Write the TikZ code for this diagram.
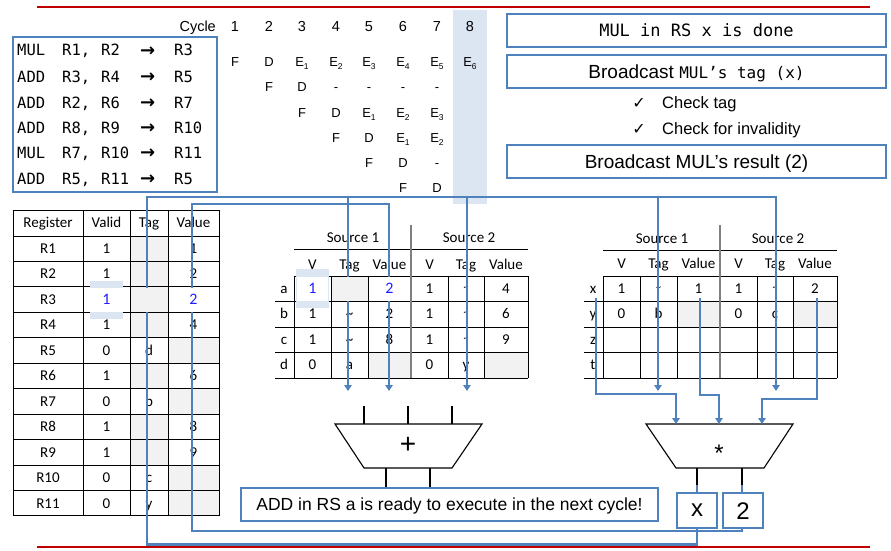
\documentclass[tikz,border=0pt]{standalone}
\usepackage{fontspec}
\setmainfont{Liberation Sans}
\newfontfamily\calib{Carlito}
\newfontfamily\dmono{DejaVu Sans Mono}
\newfontfamily\djv{DejaVu Sans}
\usetikzlibrary{arrows.meta}
\definecolor{wire}{RGB}{79,129,189}
\definecolor{hlblue}{RGB}{220,230,242}
\definecolor{cellgray}{RGB}{242,242,242}
\definecolor{redline}{RGB}{192,0,0}
\definecolor{txtblue}{RGB}{32,32,255}
\definecolor{sepgray}{RGB}{128,128,128}
\newcommand\fs[1]{\fontsize{#1}{#1}\selectfont}
\newcommand\Esb[1]{E\raisebox{-2.5pt}{\fs{8.5}#1}}
\newcommand\hti{\raisebox{3pt}{\fs{10}\textasciitilde}}
\begin{document}
\begin{tikzpicture}[x=1pt,y=-1pt,
  wa/.style={draw=wire,line width=2.8pt,-{Triangle[width=7.5pt,length=6pt]}},
  bbox/.style={draw=wire,line width=2pt,fill=white,inner sep=0pt},
  gl/.style={draw=black,line width=1pt},
  cyc/.style={font=\fs{14.5},text height=10.4pt,text depth=0pt,inner sep=0pt},
  pl/.style={font=\fs{13},text height=9.3pt,text depth=0pt,inner sep=0pt},
  im/.style={font=\dmono\fs{15.5},anchor=base west,inner sep=0pt},
  tb/.style={font=\calib\fs{15},text height=9.6pt,text depth=0pt,inner sep=0pt},
  chk/.style={font=\fs{16.5},text height=11.8pt,text depth=0pt,inner sep=0pt,anchor=west}
]
\useasboundingbox (0,0) rectangle (891,551);
% red rules
\draw[redline,line width=2.8pt] (37,7) -- (870,7);
\draw[redline,line width=2.8pt] (37,547) -- (870,547);
% cycle 8 highlight
\fill[hlblue] (453,10) rectangle (487,204);
% cycle header
\node[cyc,anchor=east] (cyc) at (216,26) {Cycle};
\foreach \c/\x in {1/235,2/269,3/302,4/336,5/369,6/403,7/437,8/470}
  \node[cyc] (cy\c) at (\x,26) {\c};
% pipeline
\foreach \t/\x/\y [count=\k] in {F/235/62,D/269/62,\Esb{1}/302/62,\Esb{2}/336/62,\Esb{3}/369/62,\Esb{4}/403/62,\Esb{5}/437/62,\Esb{6}/470/62,
  F/269/87,D/302/87,-/336/87,-/369/87,-/403/87,-/437/87,
  F/302/113,D/336/113,\Esb{1}/369/113,\Esb{2}/403/113,\Esb{3}/437/113,
  F/336/138,D/369/138,\Esb{1}/403/138,\Esb{2}/437/138,
  F/369/163,D/403/163,-/437/163,
  F/403/188,D/437/188}
  \node[pl] (p\k) at (\x,\y) {\t};
% instruction box
\draw[wire,line width=1.8pt] (13,37) rectangle (217,192);
\foreach \o/\a/\b/\d/\y [count=\k] in {MUL/{R1,}/R2/R3/56,ADD/{R3,}/R4/R5/82,ADD/{R2,}/R6/R7/108,ADD/{R8,}/R9/R10/133,MUL/{R7,}/R10/R11/158,ADD/{R5,}/R11/R5/184}{
  \node[im] (io\k) at (17,\y) {\o};
  \node[im] (ia\k) at (62,\y) {\a};
  \node[im] (ib\k) at (101,\y) {\b};
  \node[im,font=\djv\bfseries\fs{18}] (ir\k) at (140,{\y+0.5}) {→};
  \node[im] (id\k) at (174,\y) {\d};
}
% right boxes
\node[bbox,minimum width=379pt,minimum height=33pt,font=\dmono\fs{17},text height=12.4pt,text depth=0pt] (b1) at (696.5,30.5) {MUL in RS x is done};
\node[bbox,minimum width=379pt,minimum height=33pt,font=\fs{19},text height=13.6pt,text depth=0pt] (b2) at (696.5,71.5) {Broadcast {\dmono\fs{16}MUL’s tag (x)}};
\node[font=\djv\fs{16},inner sep=0pt] (ck1) at (639,103) {✓};
\node[chk] (ct1) at (662,103) {Check tag};
\node[font=\djv\fs{16},inner sep=0pt] (ck2) at (639,129) {✓};
\node[chk] (ct2) at (662,129) {Check for invalidity};
\node[bbox,minimum width=379pt,minimum height=33pt,font=\fs{19},text height=13.6pt,text depth=0pt] (b3) at (696.5,161.5) {Broadcast MUL’s result (2)};
% ---------------- register table
\foreach \i in {1,2,3,4,6,8,9} \fill[cellgray] (130,{236+25.45*(\i-1)}) rectangle (168,{236+25.45*\i});
\foreach \i in {5,7,10,11} \fill[cellgray] (168,{236+25.45*(\i-1)}) rectangle (219,{236+25.45*\i});
\foreach \x in {13,83,130,168,219} \draw[gl] (\x,210) -- (\x,516);
\draw[gl] (13,210) -- (219,210);
\foreach \i in {0,...,11} \draw[gl] (13,{236+25.45*\i}) -- (219,{236+25.45*\i});
\node[tb] (hr1) at (48,223) {Register};
\node[tb] (hr2) at (106.5,223) {Valid};
\node[tb] (hr3) at (149,223) {Tag};
\node[tb] (hr4) at (193.5,223) {Value};
\foreach \r/\v/\t/\w [count=\i] in {R1/1/{}/1,R2/1/{}/2,R3/{}/{}/{},R4/1/{}/4,R5/0/d/{},R6/1/{}/6,R7/0/b/{},R8/1/{}/8,R9/1/{}/9,R10/0/c/{},R11/0/y/{}}{
  \node[tb] (rn\i) at (48,{236+25.45*(\i-0.5)}) {\r};
  \node[tb] (rv\i) at (106.5,{236+25.45*(\i-0.5)}) {\v};
  \node[tb] (rt\i) at (149,{236+25.45*(\i-0.5)}) {\t};
  \node[tb] (rw\i) at (193.5,{236+25.45*(\i-0.5)}) {\w};
}
% ---------------- left RS
\fill[cellgray] (368,352) rectangle (411,378);
\fill[cellgray] (484,352) rectangle (528,378);
\node[tb] (ls1) at (353,238) {Source 1};
\node[tb] (ls2) at (469,238) {Source 2};
\draw[gl] (294,249) -- (528,249);
\draw[gl] (294,276) -- (528,276);
\foreach \y in {301,327,352,378} \draw[gl] (275,\y) -- (528,\y);
\foreach \x in {294,331,368,448,484,528} \draw[gl] (\x,276) -- (\x,378);
\draw[sepgray,line width=1.5pt] (411,225) -- (411,378);
\foreach \h/\x [count=\k] in {V/312.5,Tag/349.5,Value/389.5,V/429.5,Tag/466,Value/506}
  \node[tb] (lh\k) at (\x,265) {\h};
\foreach \l/\a/\b/\c/\d/\e/\f/\y in {a/{}/{}/{}/1/\hti/4/288.5,b/1/\textasciitilde/2/1/\hti/6/314,c/1/\textasciitilde/8/1/\hti/9/339.5,d/0/a/{}/0/y/{}/365}{
  \node[tb] (ll\l) at (284,\y) {\l};
  \node[tb] (l1\l) at (312.5,\y) {\a};
  \node[tb] (l2\l) at (349.5,\y) {\b};
  \node[tb] (l3\l) at (389.5,\y) {\c};
  \node[tb] (l4\l) at (429.5,\y) {\d};
  \node[tb] (l5\l) at (466,\y) {\e};
  \node[tb] (l6\l) at (506,\y) {\f};
}
% ---------------- right RS
\fill[cellgray] (677,301) rectangle (720,327);
\fill[cellgray] (793,301) rectangle (837,327);
\node[tb] (rs1) at (662,239) {Source 1};
\node[tb] (rs2) at (778,239) {Source 2};
\draw[gl] (603,250) -- (837,250);
\draw[gl] (603,276) -- (837,276);
\foreach \y in {301,327,352,378} \draw[gl] (584,\y) -- (837,\y);
\foreach \x in {603,640,677,757,793,837} \draw[gl] (\x,276) -- (\x,378);
\draw[sepgray,line width=1.5pt] (720,225) -- (720,378);
\foreach \h/\x [count=\k] in {V/621.5,Tag/658.5,Value/698.5,V/738.5,Tag/775,Value/815}
  \node[tb] (rh\k) at (\x,264) {\h};
\foreach \l/\a/\b/\c/\d/\e/\f/\y in {x/1/\hti/1/1/\hti/2/288.5,y/0/b/{}/0/c/{}/314,z/{}/{}/{}/{}/{}/{}/339.5,t/{}/{}/{}/{}/{}/{}/365}{
  \node[tb] (rl\l) at (593,\y) {\l};
  \node[tb] (r1\l) at (621.5,\y) {\a};
  \node[tb] (r2\l) at (658.5,\y) {\b};
  \node[tb] (r3\l) at (698.5,\y) {\c};
  \node[tb] (r4\l) at (738.5,\y) {\d};
  \node[tb] (r5\l) at (775,\y) {\e};
  \node[tb] (r6\l) at (815,\y) {\f};
}
% ---------------- functional units
\draw[black,line width=1.1pt] (335,424) -- (482,424) -- (452,468) -- (364,468) -- cycle;
\node[font=\fs{28},text height=14pt,text depth=0pt,inner sep=0pt] (add) at (408,446) {+};
\foreach \x in {364,408,452} \draw[black,line width=1.1pt] (\x,406) -- (\x,424);
\foreach \x in {386,430} \draw[black,line width=1.1pt] (\x,468) -- (\x,488);
\draw[black,line width=1.1pt] (646,424) -- (793,424) -- (764,468) -- (676,468) -- cycle;
\node[font=\fs{24},anchor=base,inner sep=0pt] (mul) at (719,461) {*};
\foreach \x in {697,742} \draw[black,line width=1.1pt] (\x,468) -- (\x,486);
% ---------------- wires
\coordinate (tagsrc) at (697,485);
\coordinate (valsrc) at (742,485);
\draw[wa] (tagsrc) -- (697,544.5) -- (147,544.5) -- (147,197) -- (776,197) -- (776,391);
\draw[wa] (348,197) -- (348,391);
\draw[wa] (467,197) -- (467,391);
\draw[wa] (658,197) -- (658,391);
\draw[wa] (valsrc) -- (742,531) -- (192,531) -- (192,204) -- (389,204) -- (389,391);
\draw[wa] (596,298) -- (596,394) -- (676,394) -- (676,424);
\draw[wa] (700,298) -- (700,395) -- (719,395) -- (719,424);
\draw[wa] (817,298) -- (817,399) -- (762,399) -- (762,424);
% ---------------- overlays: register R3
\fill[hlblue] (90,281) rectangle (123,319);
\fill[white] (85,288) rectangle (128,311.5);
\node[tb,text=txtblue,font=\calib\fs{16}] (r3v) at (106.5,299.6) {1};
\fill[cellgray] (131,288) rectangle (167,311.5);
\fill[white] (169,288) rectangle (218,311.5);
\node[tb,text=txtblue,font=\calib\fs{16}] (r3w) at (193.5,299.6) {2};
% overlays: RS a
\fill[hlblue] (296,269) rectangle (329,308);
\fill[white] (297,277) rectangle (328,300.5);
\node[tb,text=txtblue,font=\calib\fs{16}] (rsa1) at (312.5,288.5) {1};
\fill[cellgray] (331.5,276.5) rectangle (367.5,300.5);
\fill[white] (368.5,276.5) rectangle (410.3,300.5);
\node[tb,text=txtblue,font=\calib\fs{16}] (rsa2) at (389.5,288.5) {2};
% ---------------- bottom boxes
\node[bbox,minimum width=417pt,minimum height=33pt,font=\fs{17.5},text height=12.5pt,text depth=0pt] (msg) at (449.5,504.5) {ADD in RS a is ready to execute in the next cycle!};
\node[bbox,minimum width=40pt,minimum height=35pt,font=\fs{24},text height=12.5pt,text depth=0pt] (xbox) at (697,510.5) {x};
\node[bbox,minimum width=40pt,minimum height=35pt,font=\fs{24},text height=17pt,text depth=0pt] (twobox) at (743,510.5) {2};
\end{tikzpicture}
\end{document}
